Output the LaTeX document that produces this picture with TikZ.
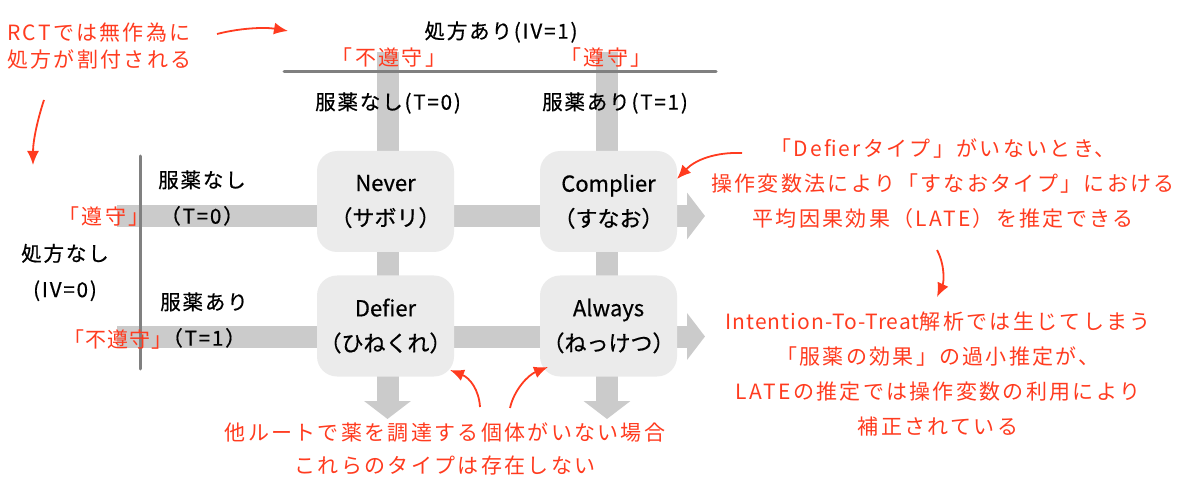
\documentclass[tikz,border=0pt]{standalone}
\usepackage{fontspec}
\setmainfont{Noto Sans CJK JP}
\newfontfamily\redfont[LetterSpace=11]{Noto Sans CJK JP}
\newfontfamily\redlat[LetterSpace=5]{Noto Sans CJK JP}
\newfontfamily\blkfont[LetterSpace=9,FakeBold=0.6]{Noto Sans CJK JP}
\newfontfamily\boxfont[FakeBold=0.6]{Noto Sans CJK JP}
\usetikzlibrary{arrows.meta}
\definecolor{bargray}{HTML}{CBCBCB}
\definecolor{boxgray}{HTML}{EBEBEB}
\definecolor{linegray}{HTML}{808080}
\definecolor{redc}{HTML}{FF3B1F}
\tikzset{
  bar/.style={draw=bargray, line width=22pt, -{Triangle[length=18pt,width=46pt]}},
  box/.style={fill=boxgray, rounded corners=20pt, minimum width=137pt, minimum height=101pt, align=center, inner sep=0pt, font=\boxfont\fontsize{22}{35}\selectfont},
  axis/.style={draw=linegray, line width=3pt, line cap=round},
  lab/.style={font=\blkfont\fontsize{20.5}{36}\selectfont, inner sep=0pt, align=center},
  note/.style={text=redc, font=\redfont\fontsize{21}{35}\selectfont, align=center, inner sep=0pt},
  rarrow/.style={draw=redc, line width=1.8pt, -{Latex[length=14pt,width=12pt]}}
}
\begin{document}
\begin{tikzpicture}[x=1pt,y=-1pt]
\useasboundingbox (0,0) rectangle (1183,478);
% bar end points
\coordinate (v1s) at (387.5,52);  \coordinate (v1e) at (387.5,419);
\coordinate (v2s) at (607,52);    \coordinate (v2e) at (607,419);
\coordinate (h1s) at (117,216);   \coordinate (h1e) at (705,216);
\coordinate (h2s) at (117,336.5); \coordinate (h2e) at (705,336.5);
\draw[bar] (v1s) -- (v1e);
\draw[bar] (v2s) -- (v2e);
\draw[bar] (h1s) -- (h1e);
\draw[bar] (h2s) -- (h2e);
% axis lines
\coordinate (ta) at (284,72); \coordinate (tb) at (716,72);
\coordinate (la) at (140,156); \coordinate (lb) at (140,369);
\draw[axis] (ta) -- (tb);
\draw[axis] (la) -- (lb);
% boxes
\node[box] (never) at (385.5,201.5) {Never\\（サボリ）};
\node[box] (comp) at (608.5,201.5) {Complier\\（すなお）};
\node[box] (defier) at (385.5,326) {Defier\\（ひねくれ）};
\node[box] (always) at (608.5,326) {Always\\（ねっけつ）};
% black labels
\node[lab] (iv1) at (501,32) {処方あり(IV=1)};
\node[lab] (t0top) at (388,103) {服薬なし(T=0)};
\node[lab] (t1top) at (615,103) {服薬あり(T=1)};
\node[lab] (t0left) at (202,198) {服薬なし\\（T=0）};
\node[lab] (t1left) at (204,320) {服薬あり\\（T=1）};
\node[lab] (iv0) at (65,272.5) {処方なし\\(IV=0)};
% red labels
\node[note] (nc1) at (389,58) {「不遵守」};
\node[note] (c1) at (606,58) {「遵守」};
\node[note] (c0) at (104,217) {「遵守」};
\node[note, font=\redlat\fontsize{21}{35}\selectfont] (nc0) at (113,340) {「不遵守」\kern-10pt};
\node[note, anchor=west, align=left, font=\redfont\fontsize{21}{27}\selectfont] (rct) at (7,46.5) {RCTでは無作為に\\処方が割付される};
\node[note] (late) at (943,184) {「Defierタイプ」がいないとき、\\操作変数法により「すなおタイプ」における\\平均因果効果（LATE）を推定できる};
\node[note] (itt) at (938,374.5) {{\redlat Intention-To-Treat}解析では生じてしまう\\「服薬の効果」の過小推定が、\\LATEの推定では操作変数の利用により\\補正されている};
\node[note, font=\redfont\fontsize{21}{33}\selectfont] (none) at (445,448.5) {他ルートで薬を調達する個体がいない場合\\これらのタイプは存在しない};
% red arrows
\coordinate (a1s) at (217,34); \coordinate (a1e) at (288,31);
\coordinate (a2s) at (44,100); \coordinate (a2e) at (33,165);
\coordinate (a3s) at (742,153); \coordinate (a3e) at (677,179);
\coordinate (a4s) at (937,250); \coordinate (a4e) at (937,297);
\coordinate (a5s) at (480,407); \coordinate (a5e) at (450,370);
\coordinate (a6s) at (510,408); \coordinate (a6e) at (548,367);
\draw[rarrow] (a1s) .. controls (240,28) and (265,27) .. (a1e);
\draw[rarrow] (a2s) .. controls (38,118) and (33,140) .. (a2e);
\draw[rarrow] (a3s) .. controls (715,152) and (695,160) .. (a3e);
\draw[rarrow] (a4s) .. controls (945,265) and (944,282) .. (a4e);
\draw[rarrow] (a5s) .. controls (479,390) and (470,378) .. (a5e);
\draw[rarrow] (a6s) .. controls (514,390) and (528,375) .. (a6e);
\end{tikzpicture}
\end{document}
